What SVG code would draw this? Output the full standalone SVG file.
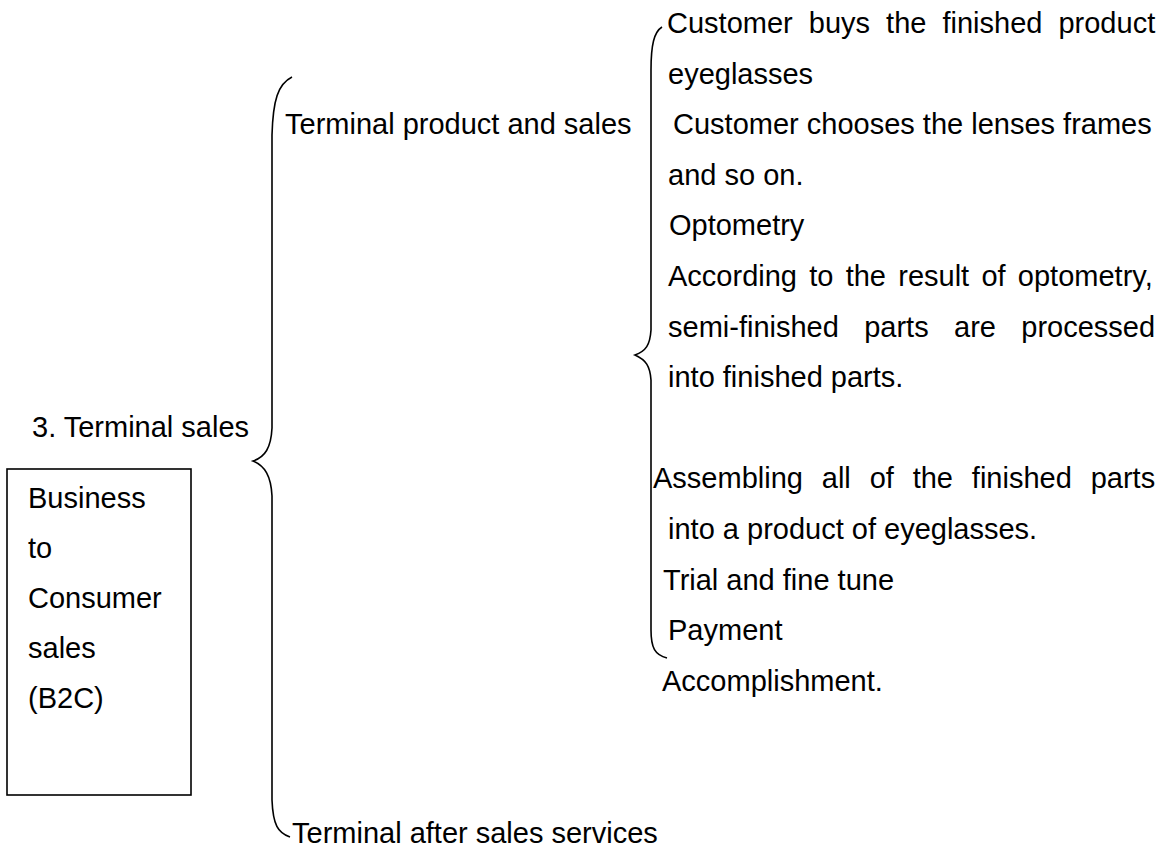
<svg xmlns="http://www.w3.org/2000/svg" width="1163" height="847" viewBox="0 0 1163 847">
<style>
text { font-family: "Liberation Sans", Arial, sans-serif; font-size: 29px; fill: #000; }
.brace { fill: none; stroke: #000; stroke-width: 1.6; }
.box { fill: #fff; stroke: #000; stroke-width: 1.6; }
</style>
<rect width="1163" height="847" fill="#fff"/>
<g id="connectors">
  <path class="brace" d="M292,77 C278,84 273,100 272,135 L272,428 C271,448 265,457 253,461 C265,466 271,476 272,496 L272,800 C273,825 278,833 290,837"/>
  <path class="brace" d="M662,27 C654,32 651,45 651,70 L651,330 C650,345 646,351 635,355 C646,360 650,366 651,380 L651,630 C651,648 655,655 667,658"/>
</g>
<g id="terminal-sales"><text x="32" y="437">3. Terminal sales</text></g>
<g id="b2c">
  <rect class="box" x="7" y="469" width="184" height="326"/>
  <text x="28" y="508">Business</text>
  <text x="28" y="558">to</text>
  <text x="28" y="608">Consumer</text>
  <text x="28" y="658">sales</text>
  <text x="28" y="708">(B2C)</text>
</g>
<g id="terminal-product"><text x="285" y="134">Terminal product and sales</text></g>
<g id="after-sales"><text x="292" y="843">Terminal after sales services</text></g>
<g id="step-buy">
  <text x="667" y="33" word-spacing="8">Customer buys the finished product</text>
  <text x="668" y="84">eyeglasses</text>
</g>
<g id="step-choose">
  <text x="673" y="134">Customer chooses the lenses frames</text>
  <text x="668" y="185">and so on.</text>
</g>
<g id="step-optometry"><text x="669" y="235">Optometry</text></g>
<g id="step-process">
  <text x="668" y="286" word-spacing="4.2">According to the result of optometry,</text>
  <text x="668" y="337" word-spacing="17.3">semi-finished parts are processed</text>
  <text x="668" y="387">into finished parts.</text>
</g>
<g id="step-assemble">
  <text x="653" y="488" word-spacing="10.8">Assembling all of the finished parts</text>
  <text x="668" y="539">into a product of eyeglasses.</text>
</g>
<g id="step-trial"><text x="663" y="590">Trial and fine tune</text></g>
<g id="step-payment"><text x="668" y="640">Payment</text></g>
<g id="step-accomplish"><text x="662" y="691">Accomplishment.</text></g>
</svg>
